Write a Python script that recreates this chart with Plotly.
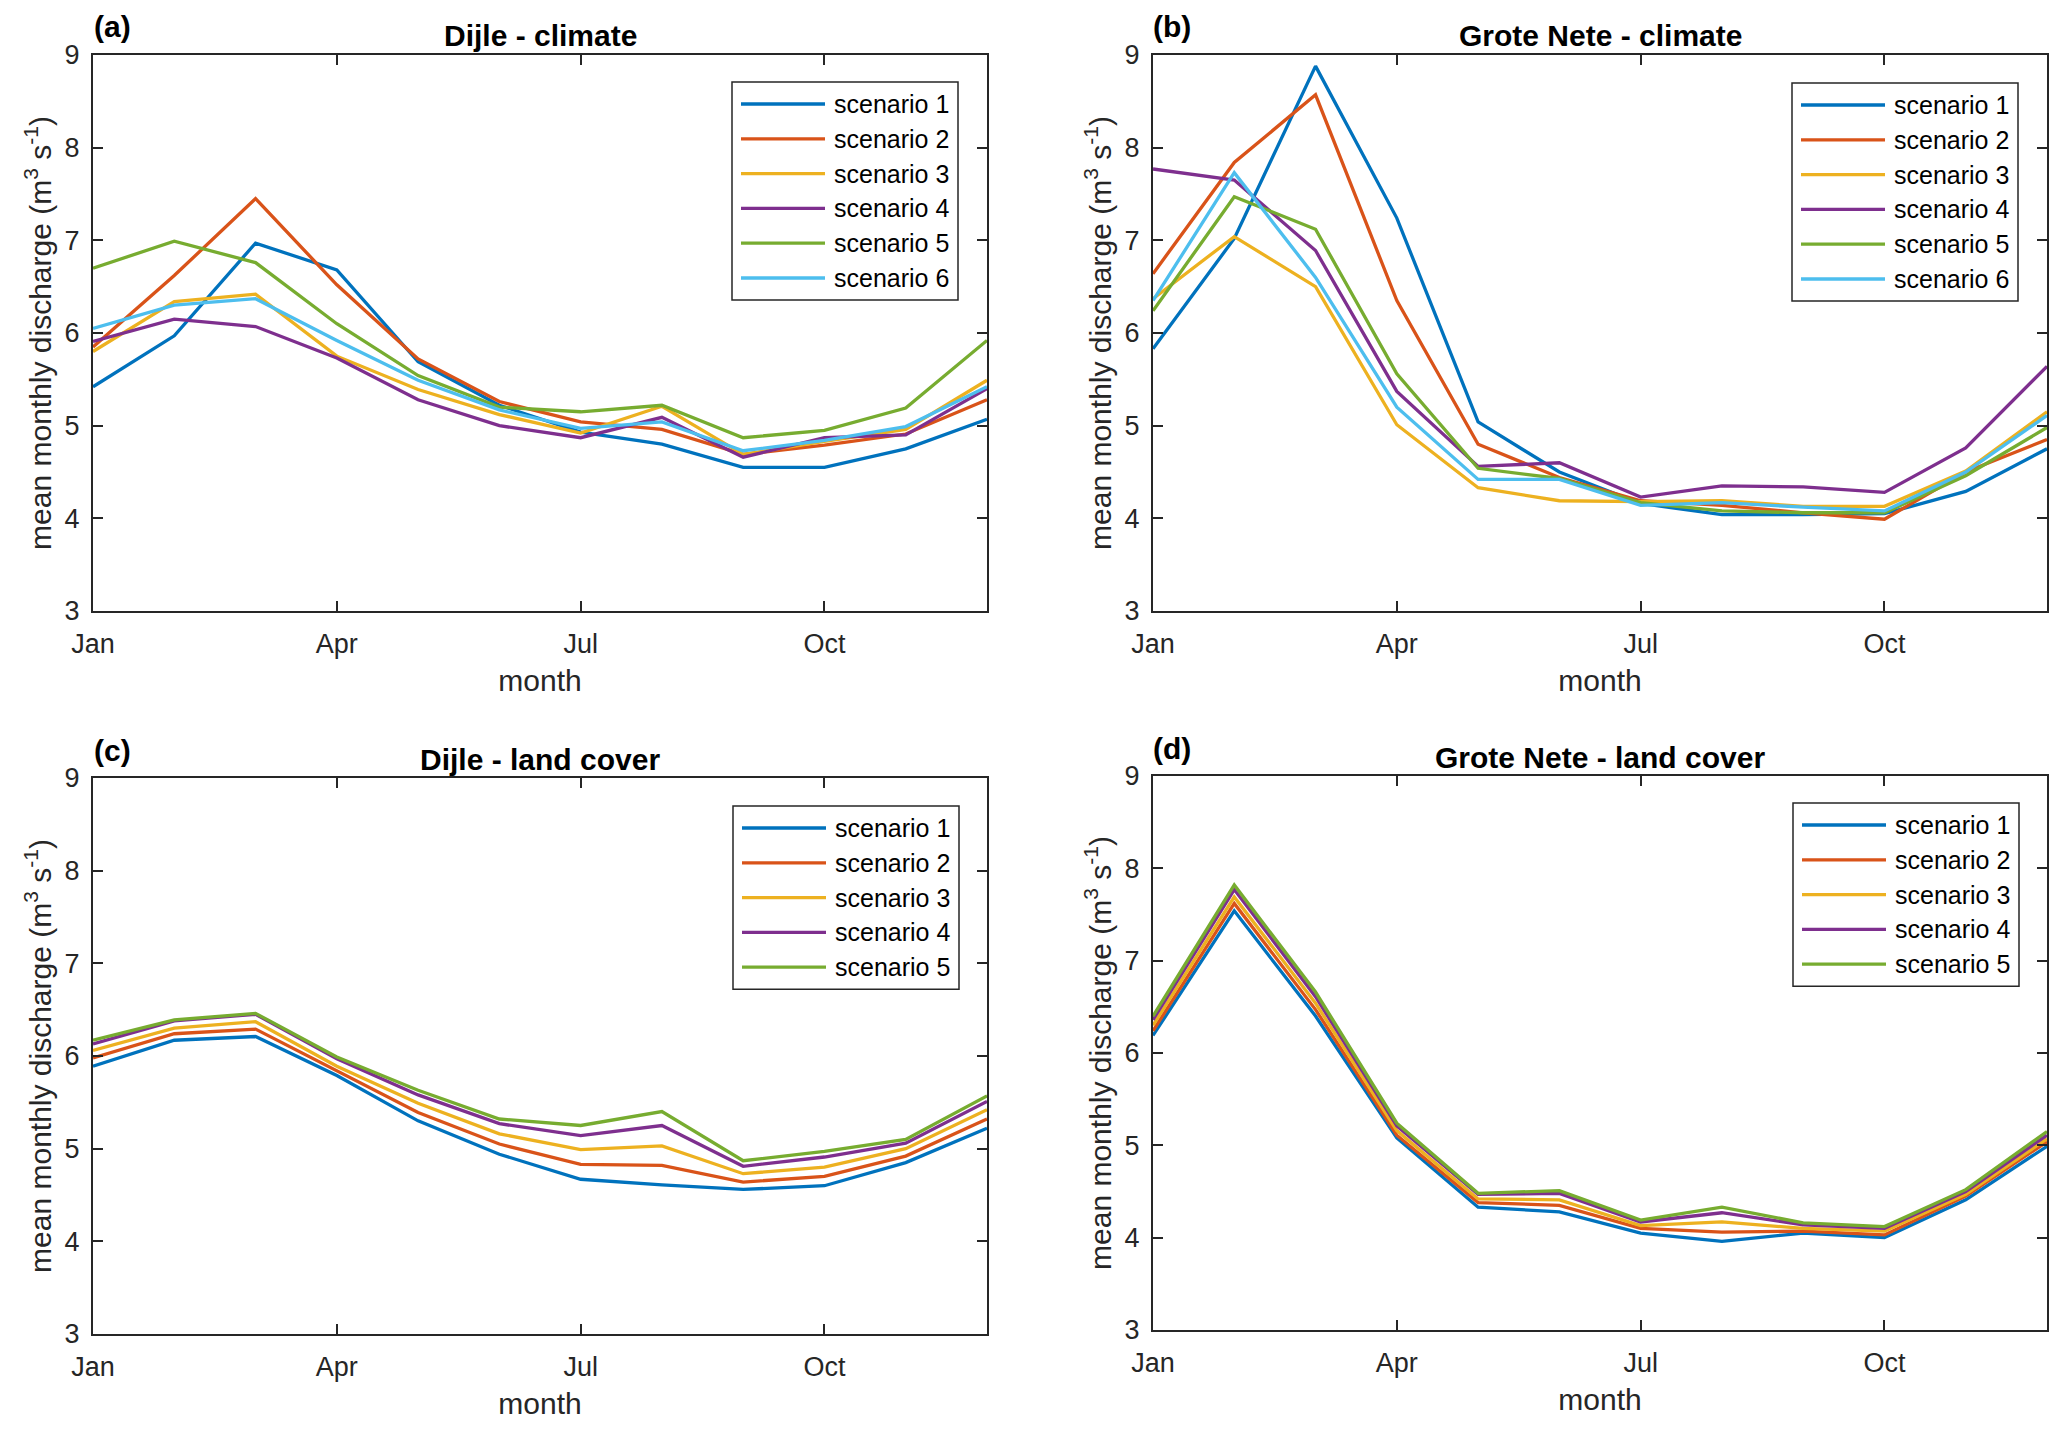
import plotly.graph_objects as go

W, H = 2067, 1433

months = list(range(1, 13))
tick_vals = [1, 4, 7, 10]
tick_text = ["Jan", "Apr", "Jul", "Oct"]
y_ticks = [3, 4, 5, 6, 7, 8, 9]

colors = ["#0072BD", "#D95319", "#EDB120", "#7E2F8E", "#77AC30", "#4DBEEE"]
names6 = ["scenario 1", "scenario 2", "scenario 3", "scenario 4", "scenario 5", "scenario 6"]

# (a) Dijle - climate
dijle_clim_s1 = [5.42, 5.97, 6.97, 6.68, 5.69, 5.22, 4.93, 4.80, 4.55, 4.55, 4.75, 5.07]
dijle_clim_s2 = [5.85, 6.62, 7.45, 6.52, 5.72, 5.26, 5.04, 4.96, 4.69, 4.79, 4.91, 5.28]
dijle_clim_s3 = [5.80, 6.34, 6.42, 5.75, 5.39, 5.12, 4.92, 5.21, 4.69, 4.83, 4.96, 5.49]
dijle_clim_s4 = [5.91, 6.15, 6.07, 5.73, 5.28, 5.00, 4.87, 5.09, 4.66, 4.87, 4.90, 5.40]
dijle_clim_s5 = [6.70, 6.99, 6.76, 6.10, 5.54, 5.20, 5.15, 5.22, 4.87, 4.95, 5.19, 5.92]
dijle_clim_s6 = [6.05, 6.30, 6.37, 5.92, 5.49, 5.17, 4.97, 5.04, 4.73, 4.84, 4.99, 5.42]

# (b) Grote Nete - climate
nete_clim_s1 = [5.83, 7.02, 8.88, 7.24, 5.04, 4.50, 4.16, 4.04, 4.04, 4.05, 4.29, 4.75]
nete_clim_s2 = [6.64, 7.84, 8.57, 6.35, 4.80, 4.44, 4.19, 4.14, 4.06, 3.99, 4.50, 4.85]
nete_clim_s3 = [6.37, 7.04, 6.50, 5.01, 4.33, 4.19, 4.18, 4.19, 4.13, 4.13, 4.51, 5.15]
nete_clim_s4 = [7.77, 7.65, 6.89, 5.37, 4.56, 4.60, 4.23, 4.35, 4.34, 4.28, 4.76, 5.64]
nete_clim_s5 = [6.24, 7.47, 7.12, 5.56, 4.54, 4.43, 4.17, 4.08, 4.06, 4.06, 4.46, 4.98]
nete_clim_s6 = [6.35, 7.73, 6.60, 5.20, 4.42, 4.42, 4.14, 4.17, 4.12, 4.08, 4.50, 5.11]

# (c) Dijle - land cover
dijle_lc_s1 = [5.89, 6.17, 6.21, 5.79, 5.30, 4.94, 4.67, 4.61, 4.56, 4.60, 4.85, 5.22]
dijle_lc_s2 = [5.98, 6.24, 6.29, 5.84, 5.39, 5.05, 4.83, 4.82, 4.64, 4.70, 4.92, 5.32]
dijle_lc_s3 = [6.06, 6.30, 6.37, 5.89, 5.49, 5.16, 4.99, 5.03, 4.73, 4.80, 5.00, 5.42]
dijle_lc_s4 = [6.13, 6.38, 6.45, 5.97, 5.58, 5.27, 5.14, 5.25, 4.81, 4.91, 5.06, 5.51]
dijle_lc_s5 = [6.17, 6.39, 6.46, 5.99, 5.63, 5.32, 5.25, 5.40, 4.87, 4.97, 5.10, 5.57]

# (d) Grote Nete - land cover
nete_lc_s1 = [6.19, 7.54, 6.40, 5.08, 4.33, 4.28, 4.05, 3.96, 4.05, 4.00, 4.41, 4.99]
nete_lc_s2 = [6.24, 7.62, 6.47, 5.11, 4.38, 4.35, 4.10, 4.06, 4.07, 4.03, 4.45, 5.04]
nete_lc_s3 = [6.30, 7.69, 6.54, 5.16, 4.42, 4.41, 4.13, 4.17, 4.10, 4.07, 4.47, 5.07]
nete_lc_s4 = [6.36, 7.77, 6.61, 5.21, 4.47, 4.48, 4.17, 4.27, 4.14, 4.10, 4.50, 5.11]
nete_lc_s5 = [6.40, 7.82, 6.66, 5.24, 4.48, 4.51, 4.19, 4.33, 4.16, 4.12, 4.52, 5.15]

panels = [
    dict(series=[dijle_clim_s1, dijle_clim_s2, dijle_clim_s3, dijle_clim_s4, dijle_clim_s5, dijle_clim_s6],
         title="Dijle - climate", label="(a)"),
    dict(series=[nete_clim_s1, nete_clim_s2, nete_clim_s3, nete_clim_s4, nete_clim_s5, nete_clim_s6],
         title="Grote Nete - climate", label="(b)"),
    dict(series=[dijle_lc_s1, dijle_lc_s2, dijle_lc_s3, dijle_lc_s4, dijle_lc_s5],
         title="Dijle - land cover", label="(c)"),
    dict(series=[nete_lc_s1, nete_lc_s2, nete_lc_s3, nete_lc_s4, nete_lc_s5],
         title="Grote Nete - land cover", label="(d)"),
]

# axes boxes in pixels: left, right, top, bottom
boxes = [(93, 987, 55, 611), (1153, 2047, 55, 611), (93, 987, 778, 1334), (1153, 2047, 776, 1330)]
# legend box top-left corners in pixels
leg_pos = [(732, 82), (1792, 83), (733, 806), (1793, 803)]
LEG_W = 226
ROW0, ROW_DY = 22, 34.8

FONT = "Liberation Sans, Arial, sans-serif"
AXC = "#262626"


def px(x):
    return x / W


def py(y):
    return 1 - y / H


fig = go.Figure()
annotations = []
shapes = []
layout = dict(
    width=W, height=H,
    margin=dict(l=0, r=0, t=0, b=0),
    paper_bgcolor="white", plot_bgcolor="white",
    font=dict(family=FONT, size=27, color="#262626"),
    showlegend=False,
)

for i, p in enumerate(panels):
    k = i + 1
    xa = "x" if k == 1 else f"x{k}"
    ya = "y" if k == 1 else f"y{k}"
    for j, s in enumerate(p["series"]):
        fig.add_trace(go.Scatter(
            x=months, y=s, mode="lines", name=names6[j],
            line=dict(color=colors[j], width=3.3),
            xaxis=xa, yaxis=ya,
        ))
    l, r, t, b = boxes[i]
    axis_common = dict(
        showline=True, linecolor=AXC, linewidth=2, mirror="ticks",
        ticks="inside", ticklen=10, tickwidth=1.5, tickcolor=AXC,
        showgrid=False, zeroline=False, automargin=False,
        tickfont=dict(family=FONT, size=27, color="#262626"),
    )
    layout["xaxis" if k == 1 else f"xaxis{k}"] = dict(
        domain=[px(l), px(r)], anchor=ya, range=[1, 12],
        tickvals=tick_vals, ticktext=tick_text, ticklabelstandoff=8,
        title=dict(text="month", font=dict(family=FONT, size=30, color="#262626"), standoff=12),
        **axis_common,
    )
    layout["yaxis" if k == 1 else f"yaxis{k}"] = dict(
        domain=[py(b), py(t)], anchor=xa, range=[3, 9],
        tickvals=y_ticks, ticklabelstandoff=6,
        title=dict(text="mean monthly discharge (m<sup>3</sup> s<sup>-1</sup>)",
                   font=dict(family=FONT, size=30, color="#262626"), standoff=4),
        **axis_common,
    )

    # titles and panel labels
    cx = (l + r) / 2
    annotations.append(dict(
        text=f"<b>{p['title']}</b>", x=px(cx), y=py(t - 19), xref="paper", yref="paper",
        xanchor="center", yanchor="middle", showarrow=False,
        font=dict(family=FONT, size=30, color="#000000"),
    ))
    annotations.append(dict(
        text=f"<b>{p['label']}</b>", x=px(l + 19), y=py(t - 28), xref="paper", yref="paper",
        xanchor="center", yanchor="middle", showarrow=False,
        font=dict(family=FONT, size=30, color="#000000"),
    ))

    # legend box (MATLAB style)
    lx, ly = leg_pos[i]
    n = len(p["series"])
    box_h = ROW0 * 2 + (n - 1) * ROW_DY
    shapes.append(dict(
        type="rect", xref="paper", yref="paper",
        x0=px(lx), x1=px(lx + LEG_W), y0=py(ly + box_h), y1=py(ly),
        line=dict(color=AXC, width=1.5), fillcolor="white", layer="above",
    ))
    for j in range(n):
        yy = ly + ROW0 + j * ROW_DY
        shapes.append(dict(
            type="line", xref="paper", yref="paper",
            x0=px(lx + 9), x1=px(lx + 93), y0=py(yy), y1=py(yy),
            line=dict(color=colors[j], width=3.3), layer="above",
        ))
        annotations.append(dict(
            text=names6[j], x=px(lx + 100), y=py(yy), xref="paper", yref="paper",
            xanchor="left", yanchor="middle", showarrow=False,
            font=dict(family=FONT, size=25, color="#000000"),
        ))

layout["annotations"] = annotations
layout["shapes"] = shapes
fig.update_layout(**layout)
fig.write_html("out.html", config={"displayModeBar": False},
               post_script="document.body.style.margin='0px';")
